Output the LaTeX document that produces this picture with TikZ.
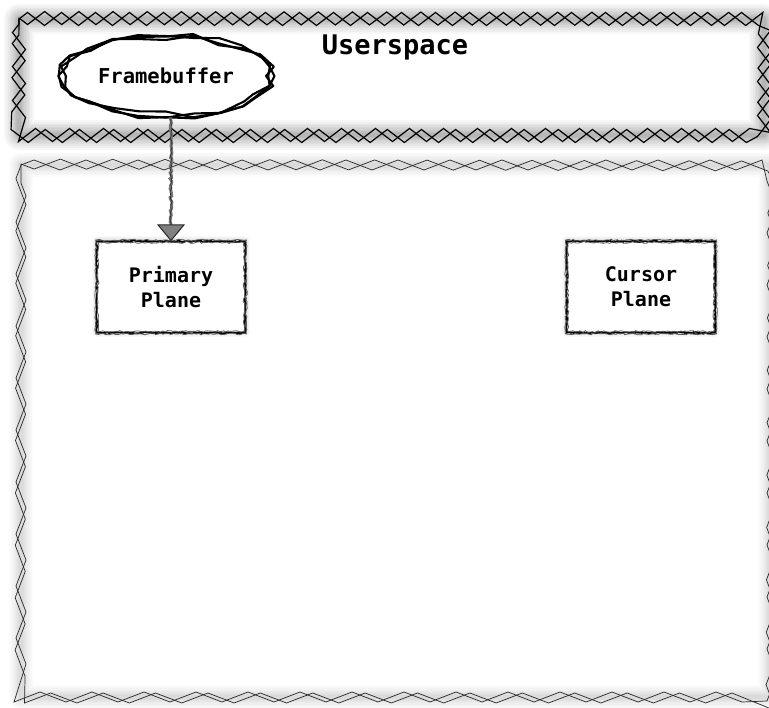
\documentclass[tikz,border=0pt]{standalone}
\usepackage{fontspec}
\setmonofont{DejaVu Sans Mono}
\usetikzlibrary{decorations.pathmorphing,shapes.geometric,arrows.meta}

\tikzset{
  x=1pt, y=-1pt,
  label font/.style={font=\ttfamily\bfseries\fontsize{#1}{#1}\selectfont},
  glow/.style={draw=black, draw opacity=0.016, line join=round},
  zig/.style n args={3}{draw=black, line width=#1, line join=miter, decorate,
    decoration={zigzag, segment length=#2, amplitude=#3}},
  rough/.style={draw=black, line width=#1, decorate,
    decoration={random steps, segment length=2.5pt, amplitude=0.9pt}},
  planebox/.style={minimum width=148pt, minimum height=91pt, fill=white,
    align=center, label font=20, inner sep=0pt},
}

\begin{document}
\begin{tikzpicture}
  \useasboundingbox (0,0) rectangle (769,708);
  \fill[white] (0,0) rectangle (769,708);

  % ---- soft haze behind the outlines ----
  \foreach \w in {24,21,18,15,12,10,8,6,4}{
    \draw[glow, line width=\w pt] (21,165) rectangle (770,697);
  }
  \foreach \w in {30,26,22,19,16,13,10,8,6,4}{
    \draw[glow, draw opacity=0.03, line width=\w pt] (19,19) rectangle (764,135);
  }
  \foreach \w in {10,8,6,4,2}{
    \draw[glow, draw opacity=0.022, line width=\w pt] (97,241) rectangle (245,332);
    \draw[glow, draw opacity=0.022, line width=\w pt] (567,241) rectangle (715,332);
  }

  % ---- lower container ----
  \draw[zig={0.7pt}{52pt}{5pt}, draw=black!85]
    (21,165) -- (772,165) -- (772,697) -- (21,697) -- cycle;
  \draw[zig={0.7pt}{52.4pt}{-5pt}, draw=black!85]
    (21,164) -- (773,166) -- (771,698) -- (20,698) -- cycle;
  \node[coordinate] (lower) at (395,431) {};

  % ---- userspace container ----
  \draw[zig={1.2pt}{34pt}{6.5pt}]
    (19,19) -- (764,19) -- (764,135) -- (19,135) -- cycle;
  \draw[zig={1.2pt}{34.2pt}{-6.5pt}]
    (19,18) -- (765,19) -- (764,136) -- (18,136) -- cycle;
  \node[label font=27] (userspace) at (395,47) {Userspace};

  % ---- framebuffer ellipse ----
  \node[ellipse, minimum width=214pt, minimum height=82pt, fill=white,
        label font=20.5, inner sep=0pt] (fb) at (166,76) {Framebuffer};
  \pgfmathsetseed{11}
  \foreach \r in {1,2,3}{
    \draw[line width=2.1pt, line join=round]
      plot[samples=24, domain=0:360*23/24]
        ({166+(106+rand*6)*cos(\x)}, {76+(40+rand*4.5)*sin(\x)}) -- cycle;
  }

  % ---- planes ----
  \node[planebox] (primary) at (171,287) {Primary\\[5pt]Plane};
  \node[planebox] (cursor) at (641,287) {Cursor\\[5pt]Plane};
  \foreach \n in {primary,cursor}{
    \draw[rough=1.3pt] (\n.north west) rectangle (\n.south east);
    \draw[rough=1.3pt] (\n.north west) rectangle (\n.south east);
    \draw[rough=0.8pt, draw=black!65] ([shift={(1.2,1.2)}]\n.north west) rectangle ([shift={(-1.2,-1.2)}]\n.south east);
    \draw[rough=0.8pt, draw=black!65] ([shift={(-1.2,-1.2)}]\n.north west) rectangle ([shift={(1.2,1.2)}]\n.south east);
  }

  % ---- connector ----
  \draw[draw=black!55, line width=2.8pt,
        decorate, decoration={random steps, segment length=2pt, amplitude=1pt, post length=18pt}]
    (fb.south -| primary.north) -- (primary.north);
  \draw[draw=black!85, line width=0.6pt,
        decorate, decoration={random steps, segment length=3pt, amplitude=1.1pt, post length=18pt},
        -{Triangle[width=28pt, length=17pt, fill=black!50, line width=1pt]}]
    (fb.south -| primary.north) -- (primary.north);
\end{tikzpicture}
\end{document}
